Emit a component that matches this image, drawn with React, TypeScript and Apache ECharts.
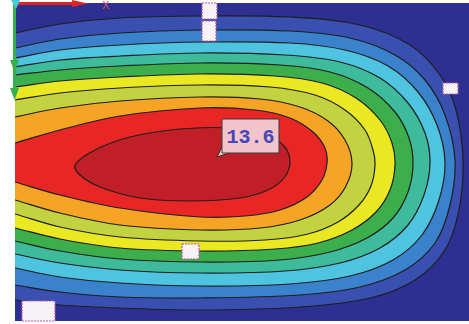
import React, { useEffect, useRef } from "react";
import * as echarts from "echarts";

// Plot extent in image units (x to the right, y downward)
const xExtent = [15, 469];
const yExtent = [3, 321];

// Band colours, outermost (background) first
const outerColor = "#2d3090";
const bandColors = [
  "#3a50b0", // inside L1
  "#3b82cc", // inside L2
  "#4ec4e0", // inside L3
  "#3dbb9b", // inside L4
  "#3cae4c", // inside L5
  "#e9e822", // inside L6
  "#c3d240", // inside L7
  "#f5a425", // inside L8
  "#e92626", // inside L9
  "#c11f28", // inside L10
];

// Contour lines (open ones leave through the left edge)
const contourL1 = [[-30,42],[15,33],[60,24],[120,18],[200,16],[290,17],[360,25],[410,45],[440,75],[456,110],[463,160],[459,210],[445,250],[415,280],[370,298],[300,307],[200,310],[120,308],[60,305],[15,300],[-30,295]];
const contourL2 = [[-30,57],[15,48],[60,39],[120,33],[200,30],[290,31],[350,38],[395,55],[425,80],[445,115],[455,160],[450,205],[435,243],[405,270],[360,287],[300,295],[200,298],[120,297],[60,292],[15,285],[-30,278]];
const contourL3 = [[-30,66],[15,58],[60,50],[120,45],[200,42],[290,43],[345,50],[388,66],[418,92],[437,125],[445,162],[439,200],[422,235],[393,260],[350,276],[290,284],[200,286],[120,283],[60,277],[15,268],[-30,259]];
const contourL4 = [[-30,74],[15,67],[60,60],[120,56],[200,53],[285,55],[340,62],[380,78],[408,103],[425,133],[430,163],[424,195],[408,225],[380,248],[340,263],[285,271],[200,273],[120,270],[60,263],[15,254],[-30,245]];
const contourL5 = [[-30,80],[15,75],[60,70],[120,66],[200,63],[280,65],[330,72],[368,88],[395,112],[409,138],[413,164],[408,192],[393,218],[367,238],[330,252],[280,260],[200,262],[120,259],[60,251],[15,241],[-30,231]];
const contourL6 = [[-30,93],[15,87],[60,81],[120,77],[200,74],[275,76],[322,83],[356,98],[380,120],[392,143],[395,165],[390,190],[376,212],[352,230],[318,243],[275,249],[200,251],[120,248],[60,239],[15,228],[-30,217]];
const contourL7 = [[-30,107],[15,100],[60,93],[120,88],[200,85],[270,87],[315,95],[345,110],[365,130],[373,150],[375,165],[371,186],[359,205],[338,222],[308,234],[265,240],[200,241],[120,237],[60,227],[15,214],[-30,201]];
const contourL8 = [[-30,126],[15,117],[60,108],[120,101],[200,97],[260,99],[300,107],[328,121],[345,140],[352,163],[346,186],[330,205],[300,220],[260,228],[200,230],[120,225],[60,213],[15,200],[-30,187]];
const contourL9 = [[-30,156],[15,143],[60,130],[120,116],[200,108],[255,110],[290,118],[313,132],[325,148],[327,163],[322,180],[307,197],[280,210],[245,216],[200,217],[120,208],[60,195],[15,182],[-30,169]];
const contourL10 = [[75,165],[95,150],[130,137],[180,129],[230,128],[265,134],[284,146],[290,162],[284,178],[268,190],[240,198],[190,201],[140,198],[100,187],[80,175]];

const contours = [contourL1, contourL2, contourL3, contourL4, contourL5, contourL6, contourL7, contourL8, contourL9, contourL10];

// Scribbled-out labels [x0, y0, x1, y1]
const maskedLabels = [
  [202, 3, 217, 19],
  [202, 21, 216, 41],
  [443, 83, 458, 94],
  [182, 244, 199, 259],
  [22, 301, 55, 321],
];

// Peak callout: anchor x, y, box x0, y0, x1, y1
const peakValue = 13.6;
const peakCallout = [[217, 157, 222, 119, 279, 153]];

export default function App() {
  const ref = useRef<HTMLDivElement>(null);
  useEffect(() => {
    if (!ref.current) return;
    const chart = echarts.init(ref.current, null, { renderer: "svg" });
    const option: any = {
      animation: false,
      grid: {
        left: xExtent[0],
        right: 469 - xExtent[1],
        top: yExtent[0],
        bottom: 324 - yExtent[1],
        show: true,
        backgroundColor: outerColor,
        borderWidth: 0,
      },
      xAxis: { type: "value", min: xExtent[0], max: xExtent[1], show: false },
      yAxis: { type: "value", min: yExtent[0], max: yExtent[1], inverse: true, show: false },
      series: [
        {
          type: "custom",
          clip: true,
          silent: true,
          data: contours.map((_, i) => [i, i]),
          renderItem: (params: any, api: any) => {
            const idx = params.dataIndex;
            const pts = contours[idx].map((p) => api.coord(p));
            return {
              type: "polygon",
              shape: { points: pts, smooth: 0.35 },
              style: { fill: bandColors[idx], stroke: "#1e1e1e", lineWidth: 1.2 },
            };
          },
        },
        {
          type: "custom",
          clip: false,
          silent: true,
          z: 5,
          data: maskedLabels,
          renderItem: (params: any, api: any) => {
            const p0 = api.coord([api.value(0), api.value(1)]);
            const p1 = api.coord([api.value(2), api.value(3)]);
            return {
              type: "rect",
              shape: { x: p0[0], y: p0[1], width: p1[0] - p0[0], height: p1[1] - p0[1] },
              style: { fill: "#f6f2f6", stroke: "#b85aa8", lineWidth: 1.2, lineDash: [2, 1] },
            };
          },
        },
        {
          type: "custom",
          clip: false,
          silent: true,
          z: 6,
          data: peakCallout,
          renderItem: (params: any, api: any) => {
            const a = api.coord([api.value(0), api.value(1)]);
            const b0 = api.coord([api.value(2), api.value(3)]);
            const b1 = api.coord([api.value(4), api.value(5)]);
            return {
              type: "group",
              children: [
                {
                  type: "polygon",
                  shape: { points: [[b0[0], b1[1] - 6], [a[0], a[1]], [b0[0] + 7, b1[1]]] },
                  style: { fill: "#f2c4cc", stroke: "#2a2a2a", lineWidth: 1 },
                },
                {
                  type: "rect",
                  shape: { x: b0[0], y: b0[1], width: b1[0] - b0[0], height: b1[1] - b0[1] },
                  style: { fill: "#f2c4cc", stroke: "#3a3a3a", lineWidth: 1 },
                },
                {
                  type: "text",
                  x: (b0[0] + b1[0]) / 2,
                  y: (b0[1] + b1[1]) / 2 + 1,
                  style: {
                    text: peakValue.toFixed(1),
                    fill: "#4646b4",
                    font: "bold 20px 'Liberation Mono', 'DejaVu Sans Mono', monospace",
                    align: "center",
                    verticalAlign: "middle",
                  },
                },
              ],
            };
          },
        },
      ],
      graphic: [
        { type: "line", shape: { x1: 18, y1: 3.5, x2: 74, y2: 3.5 }, style: { stroke: "#e02424", lineWidth: 3 }, z: 10 },
        { type: "polygon", shape: { points: [[72, 0], [88, 3.5], [72, 7]] }, style: { fill: "#e02424" }, z: 10 },
        { type: "text", x: 102, y: 0, style: { text: "X", fill: "#d84a60", font: "11px 'DejaVu Sans', sans-serif" }, z: 10 },
        { type: "line", shape: { x1: 14.5, y1: 4, x2: 14.5, y2: 96 }, style: { stroke: "#36b04a", lineWidth: 3 }, z: 10 },
        { type: "polygon", shape: { points: [[10, 60], [19, 60], [14.5, 72]] }, style: { fill: "#36b04a" }, z: 10 },
        { type: "polygon", shape: { points: [[10, 88], [19, 88], [14.5, 100]] }, style: { fill: "#36b04a" }, z: 10 },
        { type: "polygon", shape: { points: [[11, 0], [20, 0], [16, 9]] }, style: { fill: "#4cc8d8" }, z: 10 },
      ],
    };
    chart.setOption(option);
    return () => chart.dispose();
  }, []);
  return (
    <div
      ref={ref}
      style={{ position: "absolute", left: 0, top: 0, width: 469, height: 324, background: "#ffffff" }}
    />
  );
}
